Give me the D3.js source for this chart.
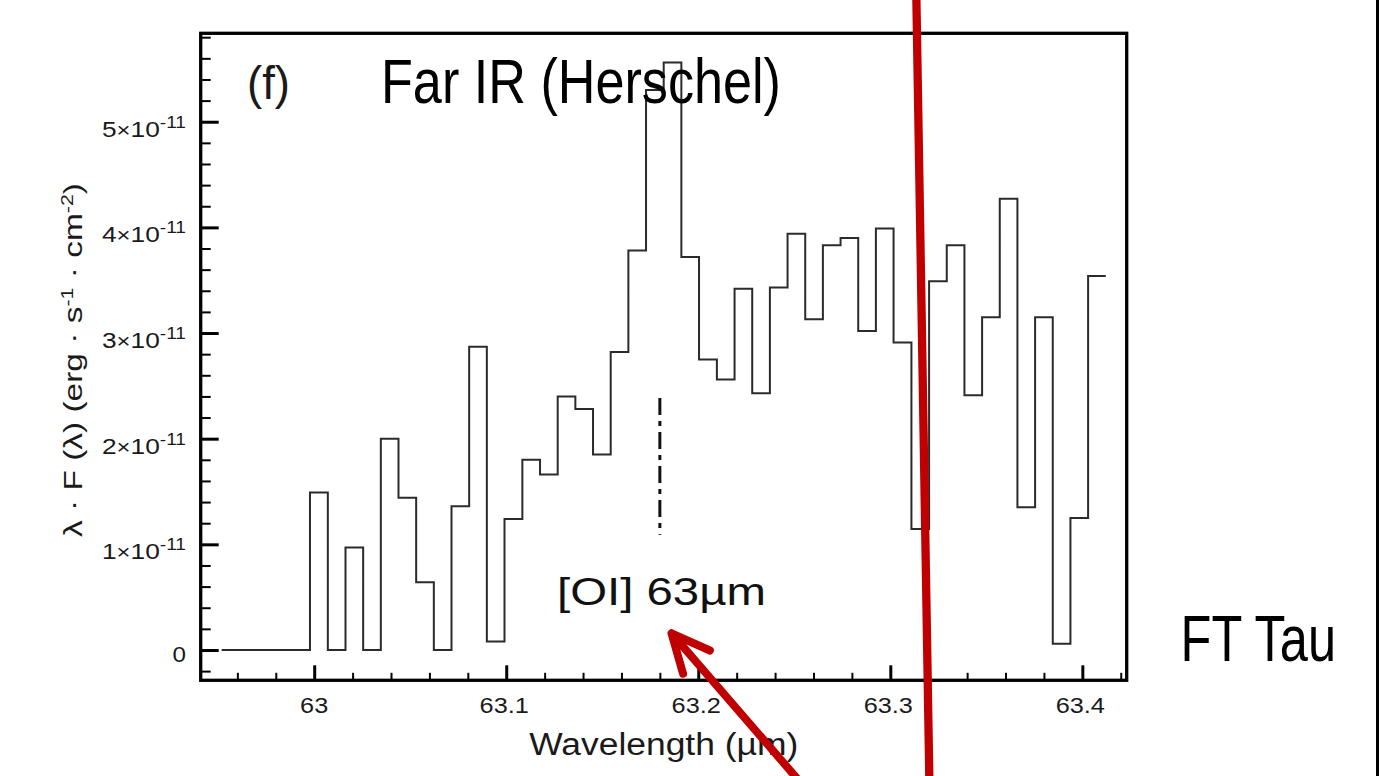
<!DOCTYPE html>
<html>
<head>
<meta charset="utf-8">
<script src="https://cdn.jsdelivr.net/npm/d3@7"></script>
<style>
body { margin: 0; background: #fff; }
svg { display: block; }
text { font-family: "Liberation Sans", Arial, Helvetica, sans-serif; }
</style>
</head>
<body>
<div id="image"></div>
<script>
var width = 1379, height = 776;
// plot box (pixels)
var box = {left: 200.7, top: 33.3, right: 1126.7, bottom: 680.3};

// bin edges of the spectrum (µm)
var binEdges = [62.9518, 62.9610, 62.9702, 62.9794, 62.9886, 62.9978, 63.0071, 63.0163, 63.0255, 63.0347,
    63.0439, 63.0531, 63.0623, 63.0715, 63.0807, 63.0899, 63.0991, 63.1084, 63.1176, 63.1268,
    63.1360, 63.1452, 63.1544, 63.1636, 63.1728, 63.1820, 63.1912, 63.2004, 63.2097, 63.2189,
    63.2281, 63.2373, 63.2465, 63.2557, 63.2649, 63.2741, 63.2833, 63.2925, 63.3017, 63.3110,
    63.3202, 63.3294, 63.3386, 63.3478, 63.3570, 63.3662, 63.3754, 63.3846, 63.3938, 63.4030,
    63.4122];
// flux in each bin, units of 1e-11 erg s-1 cm-2
var flux = [0, 0, 0, 0, 0, 1.49, 0, 0.97, 0, 2.00,
    1.44, 0.64, 0, 1.36, 2.87, 0.08, 1.24, 1.80, 1.66, 2.40,
    2.28, 1.85, 2.82, 3.78, 5.30, 5.56, 3.72, 2.75, 2.56, 3.42,
    2.43, 3.43, 3.94, 3.13, 3.83, 3.90, 3.02, 3.99, 2.91, 1.145,
    3.49, 3.83, 2.41, 3.15, 4.27, 1.35, 3.15, 0.06, 1.25, 3.54];

var xTicks = [63, 63.1, 63.2, 63.3, 63.4];
var xTickLabels = ["63", "63.1", "63.2", "63.3", "63.4"];
var yTicks = [0, 1, 2, 3, 4, 5];
var yTickLabels = ["0", "1", "2", "3", "4", "5"];

// [OI] line marker
var oiWave = 63.18;
var oiRange = [1.09, 2.385];

// red annotations, in data coordinates
var redLine = [[63.3135, 6.25], [63.3204, -1.3]];
var redArrow = [[63.1861, 0.158], [63.2566, -1.325]];

var x = d3.scaleLinear().domain([62.9409, 63.4231]).range([box.left, box.right]);
var y = d3.scaleLinear().domain([-0.287, 5.837]).range([box.bottom, box.top]);

var svg = d3.select("#image").append("svg")
    .attr("width", width)
    .attr("height", height);

// stretch a text horizontally (the figure fonts are wide)
function stretch(sel, k) {
    sel.each(function () {
        var w = this.getComputedTextLength();
        d3.select(this).attr("textLength", w * k).attr("lengthAdjust", "spacingAndGlyphs");
    });
}

// spectrum as a step line
var pts = binEdges.map(function (e, i) {
    return [e, flux[Math.min(i, flux.length - 1)]];
});
var line = d3.line()
    .x(function (d) { return x(d[0]); })
    .y(function (d) { return y(d[1]); })
    .curve(d3.curveStepAfter);

svg.append("path")
    .datum(pts)
    .attr("d", line)
    .attr("fill", "none")
    .attr("stroke", "#2b2b2b")
    .attr("stroke-width", 2);

// frame
svg.append("rect")
    .attr("x", box.left)
    .attr("y", box.top)
    .attr("width", box.right - box.left)
    .attr("height", box.bottom - box.top)
    .attr("fill", "none")
    .attr("stroke", "#000")
    .attr("stroke-width", 3.3);

// ticks (inside)
var xMinor = d3.range(62.96, 63.43, 0.02).filter(function (v) {
    return Math.abs(v * 10 - Math.round(v * 10)) > 0.01;
});
var yMinor = d3.range(-0.2, 5.81, 0.2).filter(function (v) {
    return Math.abs(v - Math.round(v)) > 0.01;
});

function tickAxis(axis, vals, size, w, tr) {
    var g = svg.append("g")
        .attr("transform", tr)
        .call(axis.tickValues(vals).tickSize(-size).tickFormat(""));
    g.select(".domain").remove();
    g.selectAll("line").attr("stroke", "#000").attr("stroke-width", w);
}
tickAxis(d3.axisBottom(x), xTicks, 15, 3, "translate(0," + box.bottom + ")");
tickAxis(d3.axisBottom(x), xMinor, 7.5, 2, "translate(0," + box.bottom + ")");
tickAxis(d3.axisLeft(y), yTicks, 18, 3, "translate(" + box.left + ",0)");
tickAxis(d3.axisLeft(y), yMinor, 10, 2, "translate(" + box.left + ",0)");

// x tick labels
svg.selectAll(".xlab")
    .data(xTicks)
    .enter().append("text")
    .attr("class", "xlab")
    .attr("x", function (d) { return x(d) - (d % 1 === 0 ? 0 : 2); })
    .attr("y", 713)
    .attr("text-anchor", "middle")
    .attr("font-size", 22)
    .attr("fill", "#1a1a1a")
    .text(function (d, i) { return xTickLabels[i]; })
    .call(stretch, 1.15);

// y tick labels : 0, then  n×10^-11
yTicks.forEach(function (v, i) {
    var t = svg.append("text")
        .attr("x", 186)
        .attr("text-anchor", "end")
        .attr("font-size", 22)
        .attr("fill", "#1a1a1a");
    if (v === 0) {
        t.attr("y", y(v) + 12).text(yTickLabels[i]).call(stretch, 1.1);
    } else {
        t.attr("y", y(v) + 15);
        t.append("tspan").text(yTickLabels[i]);
        t.append("tspan").attr("font-size", 20).text("×");
        t.append("tspan").text("10");
        t.append("tspan").attr("dy", -9).attr("font-size", 16).text("-11");
        t.attr("textLength", 84).attr("lengthAdjust", "spacingAndGlyphs");
    }
});

// axis titles
svg.append("text")
    .attr("x", (box.left + box.right) / 2)
    .attr("y", 755)
    .attr("text-anchor", "middle")
    .attr("font-size", 31)
    .attr("fill", "#1a1a1a")
    .attr("textLength", 269)
    .attr("lengthAdjust", "spacingAndGlyphs")
    .text("Wavelength (µm)");

var yt = svg.append("text")
    .attr("transform", "translate(82,360) rotate(-90)")
    .attr("text-anchor", "middle")
    .attr("font-size", 25)
    .attr("fill", "#1a1a1a");
yt.append("tspan").text("λ · F (λ) (erg · s");
yt.append("tspan").attr("dy", -9).attr("font-size", 16).text("-1");
yt.append("tspan").attr("dy", 9).text(" · cm");
yt.append("tspan").attr("dy", -9).attr("font-size", 16).text("-2");
yt.append("tspan").attr("dy", 9).text(")");
yt.attr("textLength", 354).attr("lengthAdjust", "spacingAndGlyphs");

// [OI] marker and label
svg.append("line")
    .attr("x1", x(oiWave)).attr("x2", x(oiWave))
    .attr("y1", y(oiRange[1])).attr("y2", y(oiRange[0]))
    .attr("stroke", "#111")
    .attr("stroke-width", 3)
    .attr("stroke-dasharray", "17,6,5,6");

svg.append("text")
    .attr("x", 557)
    .attr("y", 605)
    .attr("font-size", 39)
    .attr("fill", "#111")
    .attr("textLength", 209)
    .attr("lengthAdjust", "spacingAndGlyphs")
    .text("[OI] 63µm");

// panel letter and titles
svg.append("text")
    .attr("x", 247)
    .attr("y", 99)
    .attr("font-size", 46)
    .attr("fill", "#1a1a1a")
    .attr("textLength", 43)
    .attr("lengthAdjust", "spacingAndGlyphs")
    .text("(f)");

svg.append("text")
    .attr("x", 381)
    .attr("y", 103)
    .attr("font-size", 63)
    .style("font-family", "'Liberation Sans Narrow', 'Liberation Sans', Arial, sans-serif")
    .attr("fill", "#000")
    .attr("textLength", 400)
    .attr("lengthAdjust", "spacingAndGlyphs")
    .text("Far IR (Herschel)");

svg.append("text")
    .attr("x", 1180.5)
    .attr("y", 661)
    .attr("font-size", 64)
    .style("font-family", "'Liberation Sans Narrow', 'Liberation Sans', Arial, sans-serif")
    .attr("fill", "#000")
    .attr("textLength", 155.5)
    .attr("lengthAdjust", "spacingAndGlyphs")
    .text("FT Tau");

// right border of the slide
svg.append("line")
    .attr("x1", 1377.5).attr("x2", 1377.5)
    .attr("y1", 0).attr("y2", height)
    .attr("stroke", "#000")
    .attr("stroke-width", 3);

// red annotations
var red = "#c00000";
svg.append("line")
    .attr("x1", x(redLine[0][0])).attr("y1", y(redLine[0][1]))
    .attr("x2", x(redLine[1][0])).attr("y2", y(redLine[1][1]))
    .attr("stroke", red)
    .attr("stroke-width", 8.3);

var tip = [x(redArrow[0][0]), y(redArrow[0][1])];
var tail = [x(redArrow[1][0]), y(redArrow[1][1])];
var ang = Math.atan2(tail[1] - tip[1], tail[0] - tip[0]);
var barb = 42, spread = 25 * Math.PI / 180;
var arrowPath = d3.path();
arrowPath.moveTo(tail[0], tail[1]);
arrowPath.lineTo(tip[0], tip[1]);
arrowPath.moveTo(tip[0] + barb * Math.cos(ang - spread), tip[1] + barb * Math.sin(ang - spread));
arrowPath.lineTo(tip[0], tip[1]);
arrowPath.lineTo(tip[0] + barb * Math.cos(ang + spread), tip[1] + barb * Math.sin(ang + spread));

svg.append("path")
    .attr("d", arrowPath.toString())
    .attr("fill", "none")
    .attr("stroke", red)
    .attr("stroke-width", 8)
    .attr("stroke-linecap", "round")
    .attr("stroke-linejoin", "round");
</script>
</body>
</html>
